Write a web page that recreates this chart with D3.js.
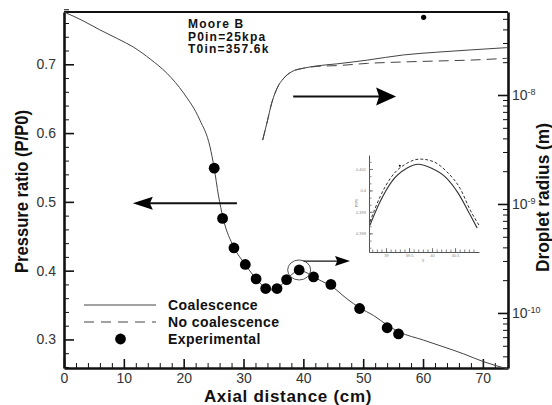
<!DOCTYPE html>
<html>
<head>
<meta charset="utf-8">
<script src="https://cdn.jsdelivr.net/npm/d3@7/dist/d3.min.js"></script>
<style>
  html, body { margin: 0; padding: 0; background: #fff; }
  svg { display: block; font-family: "Liberation Sans", Arial, sans-serif; }
</style>
</head>
<body>
<svg id="chart" width="552" height="405"></svg>
<script>
// Axial distance (cm) and static pressure ratio along the nozzle
const pressureX = [0, 3, 6, 9, 11.6, 14.5, 17.2, 20, 22.7, 24.4, 25.1, 25.8, 26.6, 28.4, 30.3, 32.1, 33.7, 34.6, 35.6, 37.2, 38.3, 39.3, 40.3, 41.7, 43, 44.6, 47.3, 49.4, 51.7, 54, 56, 60.1, 63.5, 66.8, 70, 74.2];
const pressureCoal = [0.776, 0.764, 0.750, 0.737, 0.725, 0.707, 0.687, 0.658, 0.619, 0.580, 0.549, 0.510, 0.476, 0.434, 0.409, 0.388, 0.375, 0.372, 0.374, 0.387, 0.396, 0.400, 0.398, 0.391, 0.385, 0.378, 0.359, 0.346, 0.335, 0.321, 0.311, 0.299, 0.289, 0.279, 0.268, 0.257];

// Experimental pressure ratio
const expX = [25.1, 26.5, 28.4, 30.3, 32.1, 33.7, 35.6, 37.2, 39.3, 41.7, 44.6, 49.4, 54.0, 55.9];
const expP = [0.549, 0.476, 0.433, 0.409, 0.388, 0.374, 0.374, 0.387, 0.401, 0.391, 0.380, 0.345, 0.317, 0.308];

// Droplet radius (m), with and without coalescence
const radiusX = [33.2, 33.9, 34.7, 35.6, 36.7, 38.1, 40.0, 42.3, 45.6, 50.7, 56.7, 62.3, 67.9, 74.0];
const radiusCoal = [3.86e-9, 5.50e-9, 8.39e-9, 1.15e-8, 1.42e-8, 1.64e-8, 1.76e-8, 1.85e-8, 1.93e-8, 2.09e-8, 2.33e-8, 2.47e-8, 2.59e-8, 2.72e-8];
const radiusNoCoal = [3.86e-9, 5.50e-9, 8.39e-9, 1.15e-8, 1.42e-8, 1.64e-8, 1.76e-8, 1.83e-8, 1.86e-8, 1.95e-8, 2.01e-8, 2.05e-8, 2.09e-8, 2.17e-8];

// Stray marker near the top of the radius axis
const strayX = [60.1];
const strayR = [5.16e-8];

// Zoom of the pressure peak near 39.5 cm
const insetX = [38.65, 38.87, 39.12, 39.45, 39.70, 39.99, 40.28, 40.57, 40.83, 40.98];
const insetCoal = [0.39838, 0.39947, 0.40040, 0.40103, 0.40122, 0.40103, 0.40064, 0.39986, 0.39885, 0.39825];
const insetXNo = [38.65, 38.87, 39.12, 39.45, 39.74, 40.03, 40.32, 40.61, 40.83, 41.02];
const insetNoCoal = [0.39853, 0.39970, 0.40064, 0.40126, 0.40146, 0.40134, 0.40087, 0.40009, 0.39908, 0.39838];
const insetYTicks = [0.398, 0.399, 0.400, 0.401];
const insetYLabels = ["0.398", "0.399", "0.4", "0.401"];
const insetXTicks = [39, 39.5, 40, 40.5];
const insetXLabels = ["39", "39.5", "40", "40.5"];

// Axis ticks
const xTicks = [0, 10, 20, 30, 40, 50, 60, 70];
const pTicks = [0.3, 0.4, 0.5, 0.6, 0.7];
const rTicks = [1e-10, 1e-9, 1e-8];
const rLabels = ["-10", "-9", "-8"];

const legendItems = ["Coalescence", "No coalescence", "Experimental"];
const noteLines = ["Moore B", "P0in=25kpa", "T0in=357.6k"];

const svg = d3.select("#chart");
const L = 64, R = 508, T = 12, B = 368;

const x = d3.scaleLinear([0, 74.2], [L, R]);
const yP = d3.scaleLinear([0.2585, 0.776], [B, T]);
const yR = d3.scaleLog([Math.pow(10, -10.505), Math.pow(10, -7.2385)], [B, T]);

const ink = "#111";
const curve = "#444";

// ---- axes ----
function styleAxis(g, width) {
  g.select(".domain").attr("stroke", ink).attr("stroke-width", width);
  g.selectAll(".tick line").attr("stroke", ink).attr("stroke-width", 1.6);
  g.selectAll(".tick text").attr("fill", "#333").attr("font-size", 14);
}

// minor ticks
const pMinor = d3.range(0.26, 0.7801, 0.02).filter(v => Math.abs(v * 10 - Math.round(v * 10)) > 1e-6);
svg.append("g").attr("transform", `translate(${L},0)`)
  .call(d3.axisLeft(yP).tickValues(pMinor).tickSize(-5).tickFormat(""))
  .call(g => { g.select(".domain").remove(); g.selectAll("line").attr("stroke", ink).attr("stroke-width", 1); });

const xMinor = d3.range(2, 74, 2).filter(v => v % 10 !== 0);
svg.append("g").attr("transform", `translate(0,${B})`)
  .call(d3.axisBottom(x).tickValues(xMinor).tickSize(-5).tickFormat(""))
  .call(g => { g.select(".domain").remove(); g.selectAll("line").attr("stroke", ink).attr("stroke-width", 1); });

const rMinor = [];
for (let e = -11; e <= -8; e++) for (let k = 2; k <= 9; k++) {
  const v = k * Math.pow(10, e);
  if (v > yR.domain()[0] && v < yR.domain()[1]) rMinor.push(v);
}
svg.append("g").attr("transform", `translate(${R},0)`)
  .call(d3.axisRight(yR).tickValues(rMinor).tickSize(-5).tickFormat(""))
  .call(g => { g.select(".domain").remove(); g.selectAll("line").attr("stroke", ink).attr("stroke-width", 1); });

// major axes
svg.append("g").attr("transform", `translate(${L},0)`)
  .call(d3.axisLeft(yP).tickValues(pTicks).tickSize(-10).tickSizeOuter(0).tickPadding(8).tickFormat(d3.format(".1f")))
  .call(g => styleAxis(g, 2.6));

svg.append("g").attr("transform", `translate(0,${B})`)
  .call(d3.axisBottom(x).tickValues(xTicks).tickSize(-9).tickSizeOuter(0).tickPadding(5.5).tickFormat(d3.format("d")))
  .call(g => styleAxis(g, 2.6));

const rAxis = svg.append("g").attr("transform", `translate(${R},0)`)
  .call(d3.axisRight(yR).tickValues(rTicks).tickSize(-10).tickSizeOuter(0).tickPadding(4).tickFormat(""))
  .call(g => styleAxis(g, 2.6));
rAxis.selectAll(".tick").each(function (d, i) {
  const t = d3.select(this).select("text")
    .attr("x", 4).attr("dy", "0.35em").attr("fill", "#333").attr("font-size", 14).text(null);
  t.append("tspan").text("10");
  t.append("tspan").attr("dy", "-0.55em").attr("font-size", 9).text(rLabels[i]);
});

// top frame line
svg.append("line").attr("x1", L).attr("x2", R).attr("y1", T).attr("y2", T)
  .attr("stroke", ink).attr("stroke-width", 2.2);

// ---- axis titles ----
svg.append("text").attr("x", 288).attr("y", 401.5).attr("text-anchor", "middle")
  .attr("font-size", 17).attr("font-weight", "bold").attr("letter-spacing", 0.7).attr("fill", "#111")
  .text("Axial distance (cm)");
svg.append("text").attr("transform", `translate(28,191.5) rotate(-90)`).attr("text-anchor", "middle")
  .attr("font-size", 17.5).attr("font-weight", "bold").attr("fill", "#111")
  .attr("textLength", 163).attr("lengthAdjust", "spacingAndGlyphs").text("Pressure ratio (P/P0)");
svg.append("text").attr("transform", `translate(549,197.5) rotate(-90)`).attr("text-anchor", "middle")
  .attr("font-size", 17.5).attr("font-weight", "bold").attr("fill", "#111")
  .attr("textLength", 149).attr("lengthAdjust", "spacingAndGlyphs").text("Droplet radius (m)");

// ---- curves ----
const lineP = d3.line().x((d, i) => x(pressureX[i])).y(d => yP(d)).curve(d3.curveMonotoneX);
svg.append("path").attr("d", lineP(pressureCoal)).attr("fill", "none").attr("stroke", curve).attr("stroke-width", 1);

const lineR = d3.line().x((d, i) => x(radiusX[i])).y(d => yR(d)).curve(d3.curveMonotoneX);
svg.append("path").attr("d", lineR(radiusNoCoal)).attr("fill", "none").attr("stroke", curve)
  .attr("stroke-width", 1).attr("stroke-dasharray", "10,6");
svg.append("path").attr("d", lineR(radiusCoal)).attr("fill", "none").attr("stroke", curve).attr("stroke-width", 1);

// experimental points
svg.append("g").selectAll("circle").data(expP).join("circle")
  .attr("cx", (d, i) => x(expX[i])).attr("cy", d => yP(d)).attr("r", 5.4).attr("fill", "#000");

svg.append("g").selectAll("circle").data(strayR).join("circle")
  .attr("cx", (d, i) => x(strayX[i])).attr("cy", d => yR(d)).attr("r", 2.6).attr("fill", "#000");

// ring marking the zoomed peak
svg.append("ellipse").attr("cx", x(39.3)).attr("cy", yP(0.401)).attr("rx", 11.5).attr("ry", 10)
  .attr("fill", "none").attr("stroke", "#555").attr("stroke-width", 1);

// ---- arrows ----
function arrow(x1, y1, x2, y2, headLen, headHalf, width) {
  const dir = Math.sign(x2 - x1);
  svg.append("line").attr("x1", x1).attr("y1", y1).attr("x2", x2 - dir * headLen * 0.8).attr("y2", y2)
    .attr("stroke", "#111").attr("stroke-width", width);
  svg.append("path")
    .attr("d", `M${x2},${y2} L${x2 - dir * headLen},${y2 - headHalf} L${x2 - dir * headLen * 0.85},${y2} L${x2 - dir * headLen},${y2 + headHalf} Z`)
    .attr("fill", "#000");
}
arrow(x(28.9), yP(0.498), x(11.5), yP(0.498), 20, 6.5, 2);
arrow(x(38.3), yP(0.653), x(55.5), yP(0.653), 20, 9, 2);
arrow(x(40.0), yP(0.414), x(47.8), yP(0.414), 15, 5, 1.2);

// ---- annotation ----
svg.append("g").selectAll("text").data(noteLines).join("text")
  .attr("x", 188).attr("y", (d, i) => 28 + i * 12.5)
  .attr("font-size", 12).attr("font-weight", "bold").attr("letter-spacing", 1.2).attr("fill", "#111")
  .text(d => d);

// ---- legend ----
const legY = [305, 322, 339];
const leg = svg.append("g");
leg.append("line").attr("x1", 84).attr("x2", 156).attr("y1", legY[0]).attr("y2", legY[0])
  .attr("stroke", curve).attr("stroke-width", 1);
leg.append("line").attr("x1", 84).attr("x2", 156).attr("y1", legY[1]).attr("y2", legY[1])
  .attr("stroke", curve).attr("stroke-width", 1).attr("stroke-dasharray", "10,7");
leg.append("circle").attr("cx", 120.5).attr("cy", legY[2]).attr("r", 5.4).attr("fill", "#000");
leg.selectAll("text").data(legendItems).join("text")
  .attr("x", 168).attr("y", (d, i) => legY[i] + 5)
  .attr("font-size", 14).attr("font-weight", "bold").attr("letter-spacing", 0.4).attr("fill", "#111")
  .text(d => d);

// ---- inset ----
const ix = d3.scaleLinear([38.63, 41.02], [369, 479]);
const iy = d3.scaleLinear([0.39713, 0.40165], [252, 155]);
const inset = svg.append("g");
const iyMinor = d3.range(0.39733, 0.40165, 0.001 / 3);
inset.append("g").attr("transform", "translate(369,0)")
  .call(d3.axisLeft(iy).tickValues(iyMinor).tickSize(-2.5).tickSizeOuter(0).tickFormat(""))
  .call(g => { g.select(".domain").attr("stroke", "#555").attr("stroke-width", 1); g.selectAll("line").attr("stroke", "#666").attr("stroke-width", 0.8); });
inset.append("g").attr("transform", "translate(369,0)")
  .call(d3.axisLeft(iy).tickValues(insetYTicks).tickSize(-4).tickPadding(3).tickFormat((d, i) => insetYLabels[i]))
  .call(g => { g.select(".domain").remove(); g.selectAll("line").attr("stroke", "#666").attr("stroke-width", 0.8); g.selectAll("text").attr("font-size", 4).attr("fill", "#888"); });
const ixMinor = d3.range(38.7, 41.0, 0.1);
inset.append("g").attr("transform", "translate(0,252)")
  .call(d3.axisBottom(ix).tickValues(ixMinor).tickSize(-2.5).tickSizeOuter(0).tickFormat(""))
  .call(g => { g.select(".domain").attr("stroke", "#555").attr("stroke-width", 1); g.selectAll("line").attr("stroke", "#666").attr("stroke-width", 0.8); });
inset.append("g").attr("transform", "translate(0,252)")
  .call(d3.axisBottom(ix).tickValues(insetXTicks).tickSize(-4).tickPadding(2).tickFormat((d, i) => insetXLabels[i]))
  .call(g => { g.select(".domain").remove(); g.selectAll("line").attr("stroke", "#666").attr("stroke-width", 0.8); g.selectAll("text").attr("font-size", 4).attr("fill", "#888"); });
inset.append("text").attr("x", 423).attr("y", 262).attr("text-anchor", "middle").attr("font-size", 4).attr("fill", "#888").text("X");
inset.append("text").attr("transform", "translate(358,203) rotate(-90)").attr("text-anchor", "middle").attr("font-size", 4).attr("fill", "#888").text("P/P0");

const iLineC = d3.line().x((d, i) => ix(insetX[i])).y(d => iy(d)).curve(d3.curveMonotoneX);
const iLineN = d3.line().x((d, i) => ix(insetXNo[i])).y(d => iy(d)).curve(d3.curveMonotoneX);
inset.append("path").attr("d", iLineN(insetNoCoal)).attr("fill", "none").attr("stroke", "#333")
  .attr("stroke-width", 1).attr("stroke-dasharray", "3,2");
inset.append("path").attr("d", iLineC(insetCoal)).attr("fill", "none").attr("stroke", "#333").attr("stroke-width", 1.1);
inset.append("circle").attr("cx", ix(39.3)).attr("cy", iy(0.40115)).attr("r", 1).attr("fill", "#000");
</script>
</body>
</html>
